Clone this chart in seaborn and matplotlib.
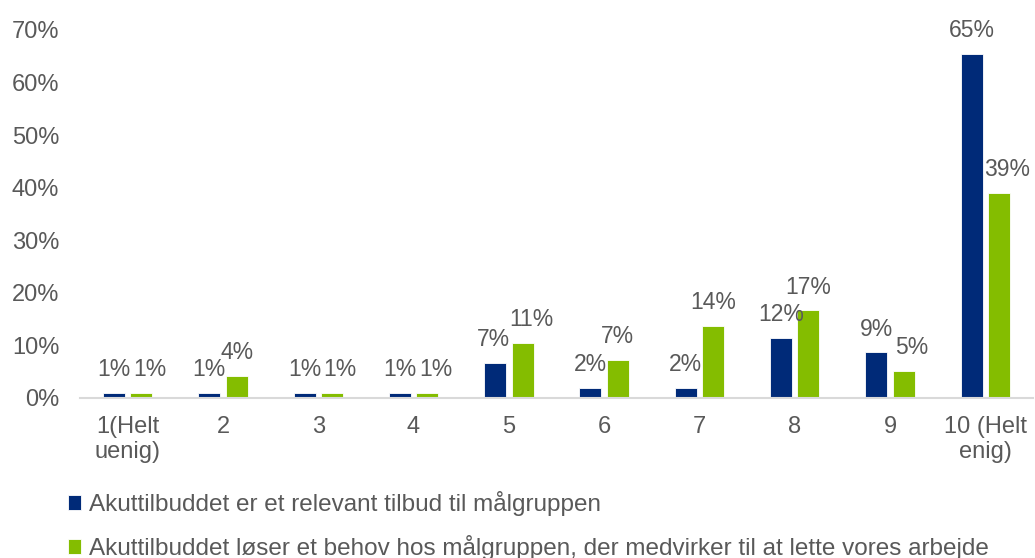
import matplotlib
matplotlib.use("Agg")
import matplotlib.pyplot as plt
import seaborn as sns
import pandas as pd

categories = ["1(Helt\nuenig)", "2", "3", "4", "5", "6", "7", "8", "9", "10 (Helt\nenig)"]
series_names = [
    "Akuttilbuddet er et relevant tilbud til målgruppen",
    "Akuttilbuddet løser et behov hos målgruppen, der medvirker til at lette vores arbejde",
]
relevant = [1.0, 1.0, 1.0, 1.0, 6.7, 1.9, 1.9, 11.4, 8.7, 65.5]
behov = [1.0, 4.2, 1.0, 1.0, 10.5, 7.2, 13.7, 16.7, 5.2, 39.0]
relevant_labels = ["1%", "1%", "1%", "1%", "7%", "2%", "2%", "12%", "9%", "65%"]
behov_labels = ["1%", "4%", "1%", "1%", "11%", "7%", "14%", "17%", "5%", "39%"]
yticks = [0, 10, 20, 30, 40, 50, 60, 70]
ytick_labels = ["0%", "10%", "20%", "30%", "40%", "50%", "60%", "70%"]

BLUE = "#002A78"
GREEN = "#84BD00"
GRAY = "#595959"

df = pd.DataFrame({
    "cat": categories * 2,
    "val": relevant + behov,
    "serie": [series_names[0]] * len(categories) + [series_names[1]] * len(categories),
})

sns.set_theme(style="white")
plt.rcParams["font.family"] = ["Liberation Sans", "DejaVu Sans"]

fig = plt.figure(figsize=(10.35, 5.58), dpi=100)
ax = fig.add_axes([80 / 1035, 1 - 398 / 558, 953 / 1035, 368 / 558])

sns.barplot(data=df, x="cat", y="val", hue="serie", order=categories,
            hue_order=series_names, palette=[BLUE, GREEN], saturation=1,
            width=0.576, gap=0.2, ax=ax, edgecolor="white", linewidth=0.6,
            errorbar=None)

LABEL_FS = 16.5
blue_bars, green_bars = ax.containers[0], ax.containers[1]
for i, (pb, pg) in enumerate(zip(blue_bars.patches, green_bars.patches)):
    b, g = relevant[i], behov[i]
    # Excel nudged some green labels sideways to avoid clashing with the blue bar/label
    nudge = b >= g or 3.5 < (g - b) < 4.5
    gx = 6 if nudge else 0
    bx = -1.5 if (nudge and b < g) else 0
    ax.annotate(relevant_labels[i], (pb.get_x() + pb.get_width() / 2, pb.get_height()),
                xytext=(bx, 12), textcoords="offset points", ha="center", va="baseline",
                fontsize=LABEL_FS, color=GRAY)
    ax.annotate(behov_labels[i], (pg.get_x() + pg.get_width() / 2, pg.get_height()),
                xytext=(gx, 12), textcoords="offset points", ha="center", va="baseline",
                fontsize=LABEL_FS, color=GRAY, annotation_clip=False)

ax.set_ylim(0, 70)
ax.set_xlim(-0.5, len(categories) - 0.5)
ax.set_yticks(yticks)
ax.set_yticklabels(ytick_labels)
ax.tick_params(axis="y", length=0, pad=15, labelsize=17, labelcolor=GRAY)
ax.tick_params(axis="x", length=0, pad=13, labelsize=17, labelcolor=GRAY)
ax.set_xlabel("")
ax.set_ylabel("")
for s in ["top", "right", "left"]:
    ax.spines[s].set_visible(False)
ax.spines["bottom"].set_color("#D9D9D9")
ax.spines["bottom"].set_linewidth(1.5)

handles, labels = ax.get_legend_handles_labels()
ax.legend_.remove()
fig.legend(handles, labels, loc="upper left", bbox_to_anchor=(68 / 1035, 1 - 491 / 558),
           frameon=False, fontsize=17.5, labelcolor=GRAY, handlelength=0.55,
           handleheight=0.55, handletextpad=0.3, labelspacing=0.78, borderaxespad=0,
           borderpad=0)

fig.savefig("out.png", dpi=100)
